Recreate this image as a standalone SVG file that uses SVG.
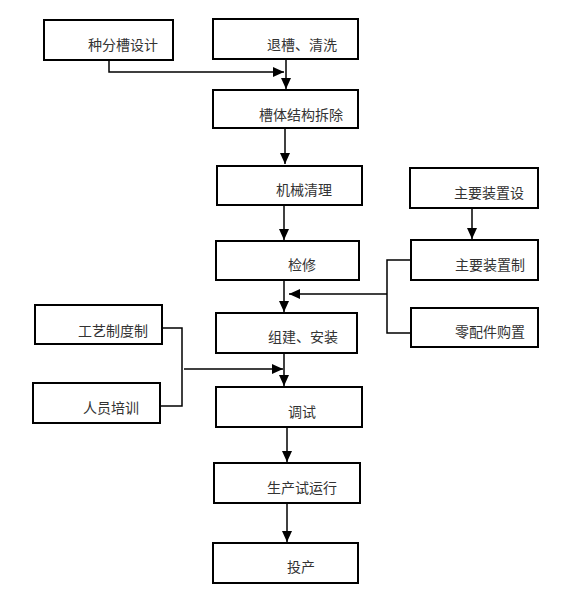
<svg xmlns="http://www.w3.org/2000/svg" width="579" height="605" viewBox="0 0 579 605">
<style>
.box{fill:#fff;stroke:#000;stroke-width:2}
.t{font-family:"Noto Sans CJK SC","Liberation Sans",sans-serif;font-size:14px;fill:#333}
.ln{fill:none;stroke:#000;stroke-width:1.5}
</style>
<defs>
<marker id="ah" markerUnits="userSpaceOnUse" markerWidth="12" markerHeight="12" viewBox="0 0 12 12" refX="11" refY="6" orient="auto">
<path d="M0,1 L11,6 L0,11 Z" fill="#000"/>
</marker>
</defs>
<rect width="579" height="605" fill="#fff"/>
<g id="connectors">
<path class="ln" d="M286,59 V89" marker-end="url(#ah)"/>
<path class="ln" d="M109,60 V72 H284" marker-end="url(#ah)"/>
<path class="ln" d="M285,128 V164" marker-end="url(#ah)"/>
<path class="ln" d="M284,205 V240" marker-end="url(#ah)"/>
<path class="ln" d="M284,280 V312" marker-end="url(#ah)"/>
<path class="ln" d="M472,208 V239" marker-end="url(#ah)"/>
<path class="ln" d="M411,260 H387 V333 H411"/>
<path class="ln" d="M387,294 H289" marker-end="url(#ah)"/>
<path class="ln" d="M162,328 H182 V406 H160"/>
<path class="ln" d="M184,369 H283" marker-end="url(#ah)"/>
<path class="ln" d="M284,353 V386" marker-end="url(#ah)"/>
<path class="ln" d="M287,427 V462" marker-end="url(#ah)"/>
<path class="ln" d="M287,503 V542" marker-end="url(#ah)"/>
</g>
<g id="n1"><rect class="box" x="44" y="20" width="129" height="40"/><text class="t" x="88" y="50">种分槽设计</text></g>
<g id="n2"><rect class="box" x="213" y="19" width="145" height="40"/><text class="t" x="267" y="50">退槽、清洗</text></g>
<g id="n3"><rect class="box" x="213" y="90" width="145" height="38"/><text class="t" x="259" y="120">槽体结构拆除</text></g>
<g id="n4"><rect class="box" x="217" y="166" width="145" height="39"/><text class="t" x="276" y="195">机械清理</text></g>
<g id="n5"><rect class="box" x="216" y="241" width="143" height="39"/><text class="t" x="288" y="270">检修</text></g>
<g id="n6"><rect class="box" x="216" y="313" width="141" height="40"/><text class="t" x="268" y="342">组建、安装</text></g>
<g id="n7"><rect class="box" x="410" y="168" width="128" height="40"/><text class="t" x="454" y="198">主要装置设</text></g>
<g id="n8"><rect class="box" x="411" y="240" width="127" height="40"/><text class="t" x="455" y="270">主要装置制</text></g>
<g id="n9"><rect class="box" x="411" y="308" width="127" height="39"/><text class="t" x="455" y="337">零配件购置</text></g>
<g id="n10"><rect class="box" x="35" y="305" width="127" height="39"/><text class="t" x="78" y="336">工艺制度制</text></g>
<g id="n11"><rect class="box" x="33" y="383" width="127" height="40"/><text class="t" x="83" y="413">人员培训</text></g>
<g id="n12"><rect class="box" x="216" y="387" width="146" height="40"/><text class="t" x="288" y="417">调试</text></g>
<g id="n13"><rect class="box" x="214" y="463" width="146" height="40"/><text class="t" x="267" y="493">生产试运行</text></g>
<g id="n14"><rect class="box" x="213" y="543" width="145" height="40"/><text class="t" x="287" y="572">投产</text></g>
</svg>
